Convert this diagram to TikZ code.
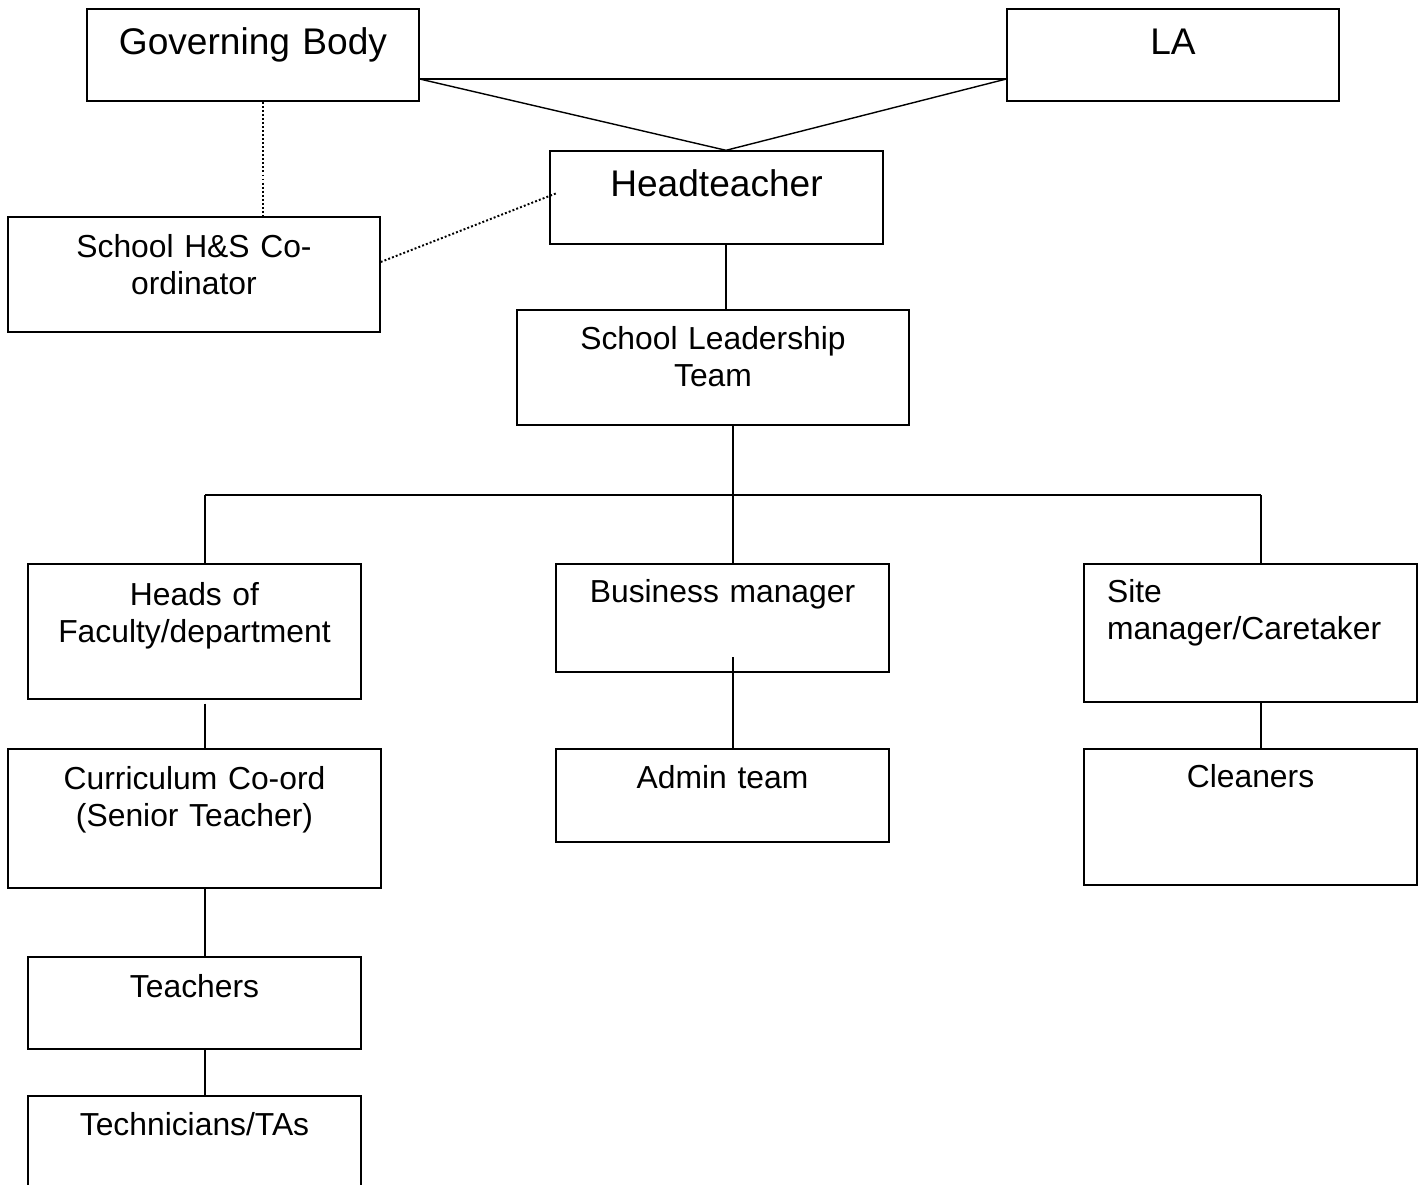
\documentclass[tikz,border=0pt]{standalone}
\usepackage{fontspec}
\setmainfont{Liberation Sans}
\usetikzlibrary{fit}

\begin{document}
\begin{tikzpicture}
 [
  x=0.01cm, y=-0.01cm,
  line width=0.4pt,
  box/.style     = {draw, rectangle, inner sep=0pt},
  txt/.style     = {anchor=base, inner sep=0pt, align=center, text width=3.6cm,
                    font=\fontsize{9.05pt}{10.53pt}\selectfont},
  bigtxt/.style  = {txt, font=\fontsize{10.55pt}{12.3pt}\selectfont},
  dotline/.style = {line width=0.55pt, dash pattern=on 0.55pt off 0.6pt},
 ]
 \useasboundingbox (0,0) rectangle (1424,1184);

 % boxes: name / left / top / right / bottom
 \foreach \n/\xa/\ya/\xb/\yb in {gb/87/9/419/101, la/1007/9/1339/101,
   head/550/151/883/244, hs/8/217/380/332, slt/517/310/909/425,
   heads/28/564/361/699, bus/556/564/889/672, site/1084/564/1417/702,
   cur/8/749/381/888, admin/556/749/889/842, clean/1084/749/1417/885,
   teach/28/957/361/1049, tech/28/1096/361/1200}
 {
  \node[box, fit={(\xa,\ya) (\xb,\yb)}] (\n) {};
 }

 % texts
 \node[bigtxt] (gb-t)    at ([yshift=-0.46cm]gb.north)    {Governing Body};
 \node[bigtxt] (la-t)    at ([yshift=-0.46cm]la.north)    {LA};
 \node[bigtxt] (head-t)  at ([yshift=-0.46cm]head.north)  {Headteacher};
 \node[txt]    (hs-t)    at ([yshift=-0.41cm]hs.north)    {School H\&S Co-\\ordinator};
 \node[txt]    (slt-t)   at ([yshift=-0.40cm]slt.north)   {School Leadership\\Team};
 \node[txt]    (heads-t) at ([yshift=-0.42cm]heads.north) {Heads of\\Faculty/department};
 \node[txt]    (bus-t)   at ([yshift=-0.39cm]bus.north)   {Business manager};
 \node[txt, anchor=base west, align=left, text width=3cm]
               (site-t)  at ([xshift=0.23cm, yshift=-0.39cm]site.north west) {Site\\manager/Caretaker};
 \node[txt]    (cur-t)   at ([yshift=-0.41cm]cur.north)   {Curriculum Co-ord\\(Senior Teacher)};
 \node[txt]    (admin-t) at ([yshift=-0.40cm]admin.north) {Admin team};
 \node[txt]    (clean-t) at ([yshift=-0.39cm]clean.north) {Cleaners};
 \node[txt]    (teach-t) at ([yshift=-0.41cm]teach.north) {Teachers};
 \node[txt]    (tech-t)  at ([yshift=-0.40cm]tech.north)  {Technicians/TAs};

 % helper points for the connectors
 \coordinate (ty)   at (0,79);
 \coordinate (ax)   at (726,0);
 \coordinate (dx)   at (263,0);
 \coordinate (hsy)  at (0,262);
 \coordinate (dend) at (557,193);
 \coordinate (cx)   at (733,495);
 \coordinate (lx)   at (205,495);
 \coordinate (rx)   at (1261,495);
 \coordinate (bin)  at (733,657);

 \draw (gb.east |- ty) -- (la.west |- ty);
 \draw (gb.east |- ty) -- (head.north -| ax) -- (la.west |- ty);
 \draw[dotline] (gb.south -| dx) -- (hs.north -| dx);
 \draw[dotline] (hs.east |- hsy) -- (dend);
 \draw (head.south -| ax) -- (slt.north -| ax);
 \draw (slt.south -| cx) -- (bus.north -| cx);
 \draw (lx) -- (rx);
 \draw (lx) -- (heads.north -| lx);
 \draw (rx) -- (site.north -| rx);
 \draw (bin) -- (admin.north -| bin);
 \draw ([yshift=-0.04cm]heads.south -| lx) -- (cur.north -| lx);
 \draw (site.south -| rx) -- (clean.north -| rx);
 \draw (cur.south -| lx) -- (teach.north -| lx);
 \draw (teach.south -| lx) -- (tech.north -| lx);
\end{tikzpicture}
\end{document}
